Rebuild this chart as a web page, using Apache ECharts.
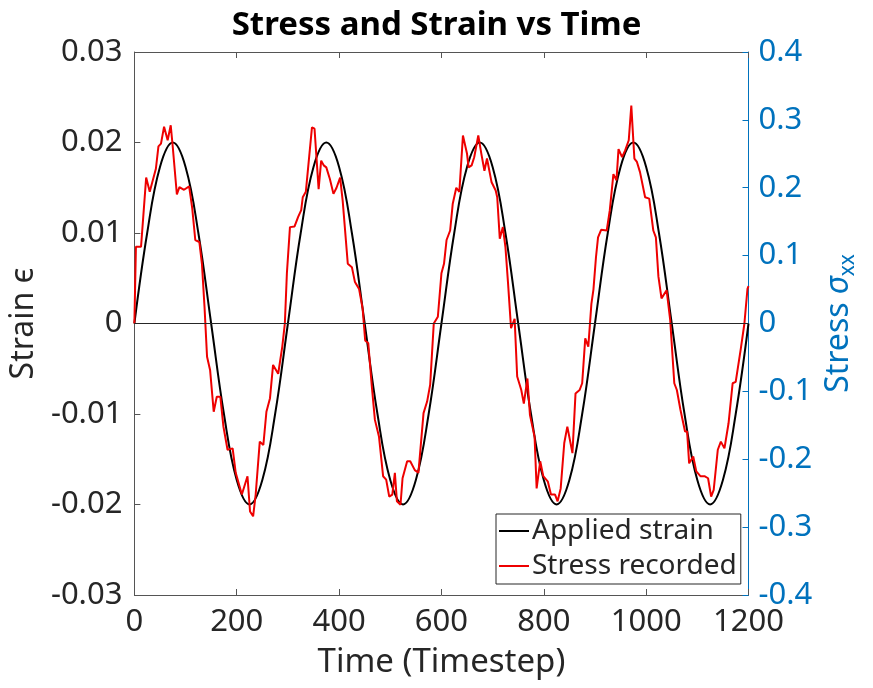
<!DOCTYPE html>
<html>
<head>
<meta charset="utf-8">
<script src="https://cdn.jsdelivr.net/npm/echarts@6/dist/echarts.min.js"></script>
<style>html,body{margin:0;padding:0;background:#fff}#c{width:873px;height:688px}</style>
</head>
<body>
<div id="c"></div>
<script>
// Applied strain (left axis)
const strainTime = [0,25,50,75,100,125,150,175,200,225,250,275,300,325,350,375,400,425,450,475,500,525,550,575,600,625,650,675,700,725,750,775,800,825,850,875,900,925,950,975,1000,1025,1050,1075,1100,1125,1150,1175,1200];
const strainValues = [0,0.01,0.0173,0.02,0.0173,0.01,0,-0.01,-0.0173,-0.02,-0.0173,-0.01,
  0,0.01,0.0173,0.02,0.0173,0.01,0,-0.01,-0.0173,-0.02,-0.0173,-0.01,
  0,0.01,0.0173,0.02,0.0173,0.01,0,-0.01,-0.0173,-0.02,-0.0173,-0.01,
  0,0.01,0.0173,0.02,0.0173,0.01,0,-0.01,-0.0173,-0.02,-0.0173,-0.01,0];

// Stress recorded (right axis)
const stressTime = [0,3,13,23,30,42,47,52,58,65,71,75,83,88,97,107,113,119,127,132,137,142,148,155,161,168,174,182,192,198,210,221,226,232,237,245,252,258,265,271,281,289,
  294,298,304,313,320,326,329,335,347,352,360,365,370,375,382,389,395,402,407,417,425,431,439,446,451,457,464,470,478,486,492,498,504,509,513,520,524,533,539,548,555,565,572,578,585,
  593,600,605,610,617,622,629,635,642,650,653,659,664,672,678,684,689,698,706,709,714,720,725,730,736,743,748,756,761,768,773,782,786,793,799,808,814,822,827,833,840,846,856,862,870,875,881,887,893,
  897,902,906,912,923,929,936,942,946,953,959,966,971,977,982,988,998,1006,1014,1019,1024,1030,1040,1047,1055,1060,1067,1076,1080,1084,1092,1098,1106,1114,1121,1127,1132,1140,1146,1153,1161,1169,1175,1185,1192,1198,1200];
const stressValues = [0,0.113,0.113,0.215,0.194,0.228,0.261,0.265,0.29,0.27,0.292,0.26,0.19,0.201,0.197,0.202,0.17,0.123,0.12,0.088,0.025,-0.049,-0.069,-0.13,-0.108,-0.108,-0.152,-0.186,-0.184,-0.22,-0.252,-0.225,-0.277,-0.284,-0.252,-0.174,-0.179,-0.13,-0.11,-0.061,-0.074,-0.034,
  0.0,0.074,0.142,0.143,0.157,0.167,0.186,0.194,0.289,0.287,0.198,0.24,0.233,0.23,0.213,0.191,0.2,0.215,0.181,0.088,0.083,0.061,0.051,0.022,-0.025,-0.029,-0.093,-0.142,-0.167,-0.225,-0.23,-0.255,-0.252,-0.22,-0.262,-0.267,-0.228,-0.203,-0.203,-0.216,-0.22,-0.132,-0.115,-0.09,0,
  0.01,0.074,0.088,0.123,0.137,0.176,0.2,0.194,0.277,0.25,0.23,0.233,0.245,0.277,0.25,0.225,0.243,0.208,0.196,0.186,0.125,0.142,0.113,0.061,-0.007,0.007,-0.078,-0.098,-0.118,-0.081,-0.135,-0.167,-0.243,-0.203,-0.225,-0.233,-0.252,-0.252,-0.262,-0.243,-0.176,-0.152,-0.191,-0.103,-0.098,-0.088,-0.022,-0.034,0.029,
  0.05,0.098,0.127,0.138,0.137,0.167,0.22,0.211,0.257,0.245,0.255,0.27,0.321,0.243,0.238,0.223,0.186,0.184,0.137,0.127,0.069,0.037,0.049,0.005,-0.088,-0.098,-0.127,-0.159,-0.159,-0.206,-0.196,-0.218,-0.225,-0.225,-0.228,-0.255,-0.245,-0.186,-0.174,-0.184,-0.147,-0.088,-0.086,-0.037,0,0.051,0.055];

const xTicks = {min: 0, max: 1200, interval: 200};
const leftTicks = {min: -0.03, max: 0.03, interval: 0.01};
const rightTicks = {min: -0.4, max: 0.4, interval: 0.1};

const FONT = 'Noto Sans';
const DARK = '#262626';
const FRAME = '#555';
const BLUE = '#0072BD';
const TICK_FS = 31;

const chart = echarts.init(document.getElementById('c'), null, {renderer: 'canvas'});
const fmt = v => {
  const r = Math.round(v * 1000) / 1000;
  return r === 0 ? '0' : String(r);
};
chart.setOption({
  animation: false,
  backgroundColor: '#fff',
  title: {
    text: 'Stress and Strain vs Time',
    left: 'center', top: 4,
    textStyle: {fontFamily: FONT, fontWeight: 'bold', fontSize: 33, color: '#000'}
  },
  grid: {left: 130, right: 124.5, top: 52, bottom: 93, containLabel: false},
  legend: {
    orient: 'vertical', left: 496, top: 514,
    backgroundColor: '#fff', borderColor: DARK, borderWidth: 1,
    padding: [3, 4, 4, 3], itemGap: 7,
    icon: 'rect', itemWidth: 30, itemHeight: 2,
    textStyle: {fontFamily: FONT, fontSize: 28, color: DARK, padding: [0, 0, 0, -2]},
    data: ['Applied strain', 'Stress recorded']
  },
  xAxis: [{
    type: 'value', position: 'bottom', ...xTicks,
    name: 'Time (Timestep)', nameLocation: 'middle', nameGap: 51,
    nameTextStyle: {fontFamily: FONT, fontSize: 33, color: DARK},
    axisLine: {show: true, onZero: false, lineStyle: {color: FRAME, width: 1}},
    axisTick: {show: true, inside: true, length: 6, lineStyle: {color: FRAME}},
    axisLabel: {fontFamily: FONT, fontSize: TICK_FS, color: DARK, margin: 12, formatter: v => String(v)},
    splitLine: {show: false}
  }, {
    type: 'value', position: 'top', ...xTicks,
    axisLine: {show: true, onZero: false, lineStyle: {color: FRAME, width: 1}},
    axisTick: {show: true, inside: true, length: 6, lineStyle: {color: FRAME}},
    axisLabel: {show: false},
    splitLine: {show: false}
  }],
  yAxis: [{
    type: 'value', position: 'left', ...leftTicks,
    name: 'Strain ϵ', nameLocation: 'middle', nameGap: 90, nameRotate: 90,
    nameTextStyle: {fontFamily: FONT, fontSize: 32, color: DARK},
    axisLine: {show: true, onZero: false, lineStyle: {color: FRAME, width: 1}},
    axisTick: {show: true, inside: true, length: 6, lineStyle: {color: FRAME}},
    axisLabel: {fontFamily: FONT, fontSize: TICK_FS, color: DARK, margin: 12, formatter: fmt},
    splitLine: {show: false}
  }, {
    type: 'value', position: 'right', ...rightTicks,
    name: '{a|Stress }{b|σ}{c|xx}', nameLocation: 'middle', nameGap: 68, nameRotate: 90,
    nameTextStyle: {
      color: BLUE,
      rich: {
        a: {fontFamily: FONT, fontSize: 32, color: BLUE},
        b: {fontFamily: FONT, fontSize: 32, color: BLUE, fontStyle: 'italic'},
        c: {fontFamily: FONT, fontSize: 21, color: BLUE, padding: [18, 0, 0, 0]}
      }
    },
    axisLine: {show: true, onZero: false, lineStyle: {color: BLUE, width: 1}},
    axisTick: {show: true, inside: true, length: 6, lineStyle: {color: BLUE}},
    axisLabel: {fontFamily: FONT, fontSize: TICK_FS, color: BLUE, margin: 10, formatter: fmt},
    splitLine: {show: false}
  }],
  series: [{
    name: 'Applied strain', type: 'line', xAxisIndex: 0, yAxisIndex: 0,
    data: strainTime.map((t, i) => [t, strainValues[i]]),
    smooth: 0.4, showSymbol: false, symbol: 'none',
    lineStyle: {color: '#000', width: 2}, itemStyle: {color: '#000'},
    z: 3,
    markLine: {
      silent: true, symbol: 'none', label: {show: false},
      lineStyle: {color: DARK, width: 1, type: 'solid'},
      data: [{yAxis: 0}]
    }
  }, {
    name: 'Stress recorded', type: 'line', xAxisIndex: 0, yAxisIndex: 1,
    data: stressTime.map((t, i) => [t, stressValues[i]]),
    showSymbol: false, symbol: 'none',
    lineStyle: {color: '#ee0000', width: 2}, itemStyle: {color: '#ee0000'},
    z: 4
  }]
});
</script>
</body>
</html>
